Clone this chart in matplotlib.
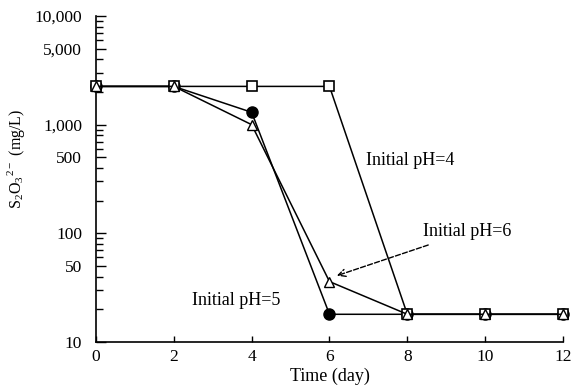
import matplotlib
matplotlib.use("Agg")
import matplotlib.pyplot as plt
from matplotlib.ticker import FixedLocator, LogLocator, NullFormatter

plt.rcParams['font.family'] = ['Liberation Serif', 'DejaVu Serif']
plt.rcParams['mathtext.fontset'] = 'custom'
plt.rcParams['mathtext.rm'] = 'Liberation Serif'

days = [0, 2, 4, 6, 8, 10, 12]
ph4 = [2250, 2250, 2250, 2250, 18, 18, 18]
ph5 = [2250, 2250, 1300, 18, 18, 18, 18]
ph6 = [2250, 2250, 1000, 36, 18, 18, 18]

ytick_vals = [10, 50, 100, 500, 1000, 5000, 10000]
ytick_labels = ['10', '50', '100', '500', '1,000', '5,000', '10,000']
xtick_vals = [0, 2, 4, 6, 8, 10, 12]

fig = plt.figure(figsize=(5.73, 3.9), dpi=100)
ax = fig.add_axes([0.1675, 0.123, 0.815, 0.836])

lw = 1.1
ax.plot(days, ph5, '-', color='black', lw=lw, marker='o', ms=8,
        mfc='black', mec='black', zorder=3, clip_on=False)
ax.plot(days, ph4, '-', color='black', lw=lw, marker='s', ms=7,
        mfc='white', mec='black', mew=1.2, zorder=4, clip_on=False)
ax.plot(days, ph6, '-', color='black', lw=lw, marker='^', ms=7,
        mfc='white', mec='black', mew=1.0, zorder=5, clip_on=False)

ax.set_yscale('log')
ax.set_ylim(10, 10000)
ax.set_xlim(0, 12)
ax.yaxis.set_major_locator(FixedLocator(ytick_vals))
ax.set_yticklabels(ytick_labels)
ax.yaxis.set_minor_locator(LogLocator(base=10, subs=range(2, 10)))
ax.yaxis.set_minor_formatter(NullFormatter())
ax.set_xticks(xtick_vals)

for s in ['top', 'right']:
    ax.spines[s].set_visible(False)
for s in ['left', 'bottom']:
    ax.spines[s].set_linewidth(1.2)

ax.tick_params(axis='y', which='major', direction='in', length=7, width=1,
               labelsize=12.5, pad=10)
ax.tick_params(axis='y', which='minor', direction='in', length=5, width=1)
ax.tick_params(axis='x', which='major', direction='in', length=4, width=1,
               labelsize=12.5, pad=5)

ax.set_xlabel('Time (day)', fontsize=13, labelpad=2)
ax.set_ylabel(r'S$_2$O$_3$$^{2-}$ (mg/L)', fontsize=11.5)
ax.yaxis.set_label_coords(-0.148, 0.561)

ax.text(6.95, 470, 'Initial pH=4', fontsize=13, va='center', ha='left')
ax.text(2.47, 24.3, 'Initial pH=5', fontsize=13, va='center', ha='left')
ax.annotate('Initial pH=6', xy=(6.12, 40), xytext=(8.4, 103),
            fontsize=13, va='center', ha='left',
            arrowprops=dict(arrowstyle='->', linestyle='--', color='black',
                            lw=1.0, shrinkA=4, shrinkB=2))

fig.savefig('out.png', dpi=100)
